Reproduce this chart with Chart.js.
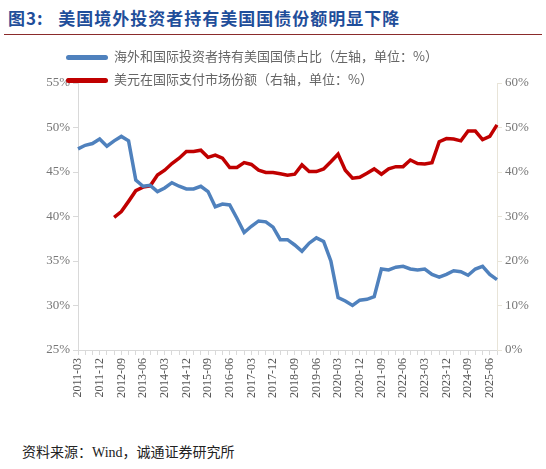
<!DOCTYPE html>
<html><head><meta charset="utf-8">
<script src="https://cdn.jsdelivr.net/npm/chart.js@4"></script>
<style>
body{margin:0;width:546px;height:469px;background:#fff;position:relative;overflow:hidden;font-family:"Liberation Serif","Noto Sans CJK SC",serif}
#title{position:absolute;left:8px;top:5px;font-size:17px;font-weight:bold;color:#1f4e9a;font-family:"Noto Sans CJK SC";letter-spacing:1px}
#tline{position:absolute;left:4px;top:34px;width:538px;height:1px;background:#8b2b2b}
#src{position:absolute;left:22px;top:441px;font-size:14px;color:#222;font-family:"Liberation Serif","Noto Sans CJK SC"}
#leg{position:absolute;left:66px;top:44px;font-size:13px;color:#666;font-family:"Noto Sans CJK SC";line-height:23px}
.sw{display:inline-block;width:42px;height:5px;border-radius:3px;vertical-align:middle;margin-right:6px}
#wrap{position:absolute;left:0;top:40px;width:546px;height:380px}
</style></head><body>
<div id="title">图3:&nbsp;&nbsp;&nbsp;美国境外投资者持有美国国债份额明显下降</div>
<div id="tline"></div>
<div id="wrap"><canvas id="c" width="546" height="380"></canvas></div>
<div id="leg"><div><span class="sw" style="background:#4f81bd"></span>海外和国际投资者持有美国国债占比（左轴，单位：%）</div>
<div><span class="sw" style="background:#c00000"></span>美元在国际支付市场份额（右轴，单位：%）</div></div>
<div id="src">资料来源：Wind，诚通证券研究所</div>
<script>
const categories=[];
for(let y=2011;y<=2025;y++){for(const m of ['03','06','09','12']){if(y===2025&&m==='12')continue;categories.push(y+'-'+m);}}
const foreignHolding=[47.6,48.0,48.2,48.7,47.9,48.5,49.0,48.5,44.1,43.4,43.5,42.8,43.2,43.8,43.4,43.1,43.1,43.4,42.8,41.1,41.4,41.3,39.8,38.2,38.9,39.5,39.4,38.8,37.4,37.4,36.8,36.1,37.0,37.6,37.2,35.0,30.9,30.5,30.0,30.6,30.7,31.0,34.1,34.0,34.3,34.4,34.1,34.0,34.1,33.5,33.2,33.5,33.9,33.8,33.4,34.1,34.4,33.5,32.9];
const usdShare=[null,null,null,null,null,29.8,31.1,33.4,35.8,36.6,36.9,39.3,40.4,41.9,43.1,44.6,44.6,44.9,43.3,43.8,43.1,41.0,41.0,42.1,41.7,40.4,39.9,39.9,39.6,39.3,39.5,41.6,40.1,40.1,40.7,42.3,44.0,40.4,38.6,38.8,39.7,40.7,39.5,40.7,41.2,41.2,42.7,41.9,41.8,42.1,46.8,47.5,47.4,47.0,49.2,49.2,47.3,48.0,50.6];
const tickFont={family:"Liberation Serif",size:13};
new Chart(document.getElementById('c'),{type:'line',
data:{labels:categories,datasets:[
{data:foreignHolding,borderColor:'#4f81bd',borderWidth:3.5,pointRadius:0,yAxisID:'y',tension:0},
{data:usdShare,borderColor:'#c00000',borderWidth:3.5,pointRadius:0,yAxisID:'y1',tension:0}]},
options:{responsive:false,animation:false,plugins:{legend:{display:false},tooltip:{enabled:false}},
layout:{padding:{top:43,left:0,right:0,bottom:0}},
scales:{
x:{offset:false,grid:{drawOnChartArea:false,color:'#d9d9d9',tickLength:5},border:{color:'#d9d9d9'},
ticks:{autoSkip:false,maxRotation:90,minRotation:90,color:'#555',font:{family:"Liberation Serif",size:12},callback:(v,i)=>i%3===0?categories[i]:''},
afterFit:s=>{s.height=70;}},
y:{position:'left',min:25,max:55,ticks:{stepSize:5,color:'#777',font:tickFont,callback:v=>v+'%'},grid:{drawOnChartArea:false,color:'#d9d9d9',tickLength:5},border:{color:'#d9d9d9'},afterFit:s=>{s.width=78;}},
y1:{position:'right',min:0,max:60,ticks:{stepSize:10,color:'#777',font:tickFont,callback:v=>v+'%'},grid:{drawOnChartArea:false,color:'#e8e4d8',tickLength:5},border:{color:'#e8e4d8'},afterFit:s=>{s.width=49;}}
}}});
</script>
</body></html>
